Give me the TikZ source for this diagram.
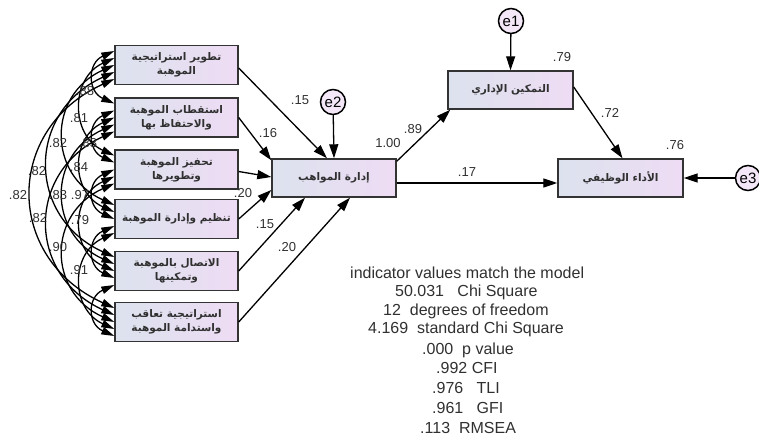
\documentclass[tikz,border=0pt]{standalone}
\usepackage{fontspec}
\setmainfont{Liberation Sans}
\newfontfamily\arabicfont[Script=Arabic]{DejaVu Sans}
\TeXXeTstate=1
\usetikzlibrary{arrows.meta,calc}
\definecolor{boxL}{HTML}{DCE2EE}
\definecolor{boxR}{HTML}{EEDCF4}
\definecolor{errF}{HTML}{F4E8F8}
\definecolor{txt}{HTML}{303030}
\newcommand\covarc[6]{\draw[cov] ([yshift=#2pt]#1.west) .. controls +(-#5,#6) and +(-#5,-#6) .. ([yshift=#4pt]#3.west);}
\newcommand\ar[1]{\beginR #1\endR}
\tikzset{
  var/.style={draw=black!80, line width=1.4pt, left color=boxL, right color=boxR,
    minimum width=123pt, minimum height=39pt, inner sep=1pt, align=center,
    font=\arabicfont\bfseries\fontsize{10.5}{14}\selectfont, text=txt},
  err/.style={circle, draw=black, line width=1.5pt, fill=errF, minimum size=25pt,
    inner sep=0pt, font=\fontsize{15}{16}\selectfont},
  reg/.style={-{Triangle[length=14pt,width=9pt]}, line width=1.3pt},
  cov/.style={{Triangle[length=13pt,width=7.5pt]}-{Triangle[length=13pt,width=7.5pt]}, line width=1.3pt},
  lbl/.style={font=\fontsize{13}{14}\selectfont, text=txt, inner sep=0pt},
  stat/.style={anchor=west, font=\fontsize{16}{18}\selectfont, text=txt, inner sep=0pt},
}
\begin{document}
\begin{tikzpicture}[x=1pt,y=-1pt]
\useasboundingbox (0,0) rectangle (759,438);
% left exogenous boxes
\node[var] (b1) at (176.5,65)  {\ar{تطوير استراتيجية}\\\ar{الموهبة}};
\node[var] (b2) at (176.5,117.5) {\ar{استقطاب الموهبة}\\\ar{والاحتفاظ بها}};
\node[var] (b3) at (176.5,169.5) {\ar{تحفيز الموهبة}\\\ar{وتطويرها}};
\node[var] (b4) at (176.5,219) {\ar{تنظيم وإدارة الموهبة}};
\node[var] (b5) at (176.5,271) {\ar{الاتصال بالموهبة}\\\ar{وتمكينها}};
\node[var] (b6) at (176.5,322) {\ar{استراتيجية تعاقب}\\\ar{واستدامة الموهبة}};
% endogenous boxes
\node[var, minimum width=124pt, minimum height=38pt] (m) at (334,178) {\ar{إدارة المواهب}};
\node[var, minimum width=125pt, minimum height=38pt] (t) at (510.5,90) {\ar{التمكين الإداري}};
\node[var, minimum width=125pt, minimum height=38pt] (r) at (620.5,178) {\ar{الأداء الوظيفي}};
% error terms
\node[err] (e1) at (511,21) {e1};
\node[err] (e2) at (333,102) {e2};
\node[err] (e3) at (748,178) {e3};
% covariances
\covarc{b1}{14}{b2}{14}{27}{12}
\covarc{b1}{7}{b3}{14}{44}{20}
\covarc{b1}{0}{b4}{14}{67}{30}
\covarc{b1}{-7}{b5}{14}{88}{40}
\covarc{b1}{-14}{b6}{14}{110}{50}
\covarc{b2}{7}{b3}{7}{27}{12}
\covarc{b2}{0}{b4}{7}{44}{20}
\covarc{b2}{-7}{b5}{7}{67}{30}
\covarc{b2}{-14}{b6}{7}{88}{40}
\covarc{b3}{0}{b4}{0}{27}{12}
\covarc{b3}{-7}{b5}{0}{44}{20}
\covarc{b3}{-14}{b6}{0}{67}{30}
\covarc{b4}{-7}{b5}{-7}{27}{12}
\covarc{b4}{-14}{b6}{-7}{44}{20}
\covarc{b5}{-14}{b6}{-14}{27}{12}
% covariance labels
\node[lbl] (c12) at (85,91) {.88};
\node[lbl] (c13) at (79,118) {.81};
\node[lbl] (c14) at (58,143) {.82};
\node[lbl] (c15) at (37,171) {.82};
\node[lbl] (c16) at (18,195) {.82};
\node[lbl] (c23) at (88,143) {.83};
\node[lbl] (c24) at (79,167) {.84};
\node[lbl] (c25) at (58,195) {.83};
\node[lbl] (c26) at (38,218) {.82};
\node[lbl] (c34) at (80,195) {.97};
\node[lbl] (c35) at (80,220) {.79};
\node[lbl] (c36) at (58,247) {.90};
\node[lbl] (c46) at (79,270) {.91};
% regressions into m
\draw[reg] ([yshift=-3pt]b1.east) -- ([xshift=-7pt]m.north);
\draw[reg] (b2.east) -- ([yshift=-2pt]m.north west);
\draw[reg] ([yshift=-2pt]b3.east) -- ([yshift=1pt]m.west);
\draw[reg] (b4.east) -- ([yshift=-12pt]m.west);
\draw[reg] (b5.east) -- ([xshift=-29pt]m.south);
\draw[reg] (b6.east) -- ([xshift=16pt]m.south);
\draw[reg] (e2) -- (m.north);
% structural paths
\draw[reg] ([yshift=-3pt]m.north east) -- ([xshift=3pt]t.south west);
\draw[reg] ([yshift=-5pt]m.east) -- ([yshift=-5pt]r.west);
\draw[reg] ([yshift=3pt]t.east) -- ([xshift=2pt]r.north);
\draw[reg] (e1) -- (t.north);
\draw[reg] (e3) -- (r.east);
% path labels
\node[lbl] (l1) at (300,100) {.15};
\node[lbl] (l2) at (268,133) {.16};
\node[lbl] (l4) at (243,193) {.20};
\node[lbl] (l5) at (265,224) {.15};
\node[lbl] (l6) at (287,247) {.20};
\node[lbl] (lm) at (388,143) {1.00};
\node[lbl] (lmt) at (413,129) {.89};
\node[lbl] (lmr) at (467,172) {.17};
\node[lbl] (ltr) at (610,113) {.72};
\node[lbl] (lt) at (562,57) {.79};
\node[lbl] (lr) at (675,145) {.76};
% fit statistics
\node[stat] (s1) at (350,273) {indicator values match the model};
\node[stat] (s2) at (395,292) {50.031\ \ \ Chi Square};
\node[stat] (s3) at (383,311) {12\ \ degrees of freedom};
\node[stat] (s4) at (368,329) {4.169\ \ standard Chi Square};
\node[stat] (s5) at (422,350) {.000\ \ p value};
\node[stat] (s6) at (436,368) {.992 CFI};
\node[stat] (s7) at (432,388) {.976\ \ \ TLI};
\node[stat] (s8) at (432,408) {.961\ \ \ GFI};
\node[stat] (s9) at (420,428) {.113\ \ RMSEA};
\end{tikzpicture}
\end{document}
